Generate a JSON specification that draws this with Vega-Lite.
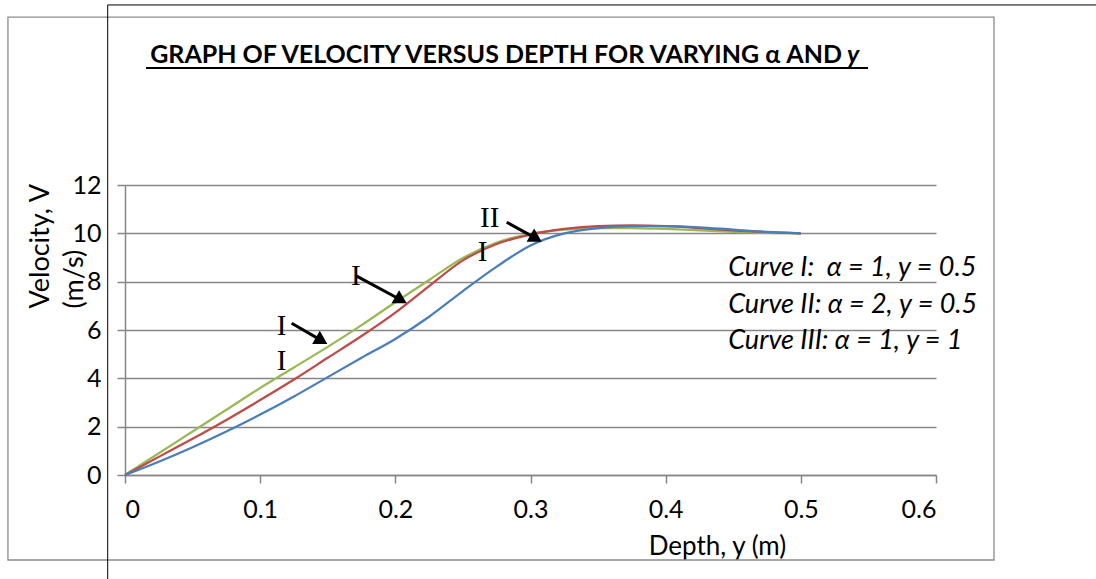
{
  "$schema": "https://vega.github.io/schema/vega-lite/v6.json",
  "width": 811,
  "height": 290,
  "autosize": "none",
  "padding": {"left": 125, "top": 185, "right": 160, "bottom": 104},
  "background": "white",
  "config": {"view": {"stroke": null}, "text": {"font": "Lato"}},
  "datasets": {
    "one": [{}],
    "curves": [
      {"depth": 0, "v": 0, "curve": "Curve II"},
      {"depth": 0.025, "v": 0.9, "curve": "Curve II"},
      {"depth": 0.05, "v": 1.8, "curve": "Curve II"},
      {"depth": 0.075, "v": 2.7, "curve": "Curve II"},
      {"depth": 0.1, "v": 3.6, "curve": "Curve II"},
      {"depth": 0.125, "v": 4.45, "curve": "Curve II"},
      {"depth": 0.15, "v": 5.3, "curve": "Curve II"},
      {"depth": 0.175, "v": 6.2, "curve": "Curve II"},
      {"depth": 0.2, "v": 7.15, "curve": "Curve II"},
      {"depth": 0.225, "v": 8.07, "curve": "Curve II"},
      {"depth": 0.25, "v": 8.98, "curve": "Curve II"},
      {"depth": 0.275, "v": 9.62, "curve": "Curve II"},
      {"depth": 0.3, "v": 9.98, "curve": "Curve II"},
      {"depth": 0.325, "v": 10.15, "curve": "Curve II"},
      {"depth": 0.35, "v": 10.22, "curve": "Curve II"},
      {"depth": 0.375, "v": 10.22, "curve": "Curve II"},
      {"depth": 0.4, "v": 10.18, "curve": "Curve II"},
      {"depth": 0.425, "v": 10.12, "curve": "Curve II"},
      {"depth": 0.45, "v": 10.06, "curve": "Curve II"},
      {"depth": 0.475, "v": 10.02, "curve": "Curve II"},
      {"depth": 0.5, "v": 10.0, "curve": "Curve II"},
      {"depth": 0, "v": 0, "curve": "Curve I"},
      {"depth": 0.025, "v": 0.75, "curve": "Curve I"},
      {"depth": 0.05, "v": 1.5, "curve": "Curve I"},
      {"depth": 0.075, "v": 2.28, "curve": "Curve I"},
      {"depth": 0.1, "v": 3.1, "curve": "Curve I"},
      {"depth": 0.125, "v": 3.95, "curve": "Curve I"},
      {"depth": 0.15, "v": 4.85, "curve": "Curve I"},
      {"depth": 0.175, "v": 5.75, "curve": "Curve I"},
      {"depth": 0.2, "v": 6.72, "curve": "Curve I"},
      {"depth": 0.225, "v": 7.82, "curve": "Curve I"},
      {"depth": 0.25, "v": 8.88, "curve": "Curve I"},
      {"depth": 0.275, "v": 9.56, "curve": "Curve I"},
      {"depth": 0.3, "v": 9.95, "curve": "Curve I"},
      {"depth": 0.325, "v": 10.18, "curve": "Curve I"},
      {"depth": 0.35, "v": 10.3, "curve": "Curve I"},
      {"depth": 0.375, "v": 10.33, "curve": "Curve I"},
      {"depth": 0.4, "v": 10.3, "curve": "Curve I"},
      {"depth": 0.425, "v": 10.22, "curve": "Curve I"},
      {"depth": 0.45, "v": 10.12, "curve": "Curve I"},
      {"depth": 0.475, "v": 10.05, "curve": "Curve I"},
      {"depth": 0.5, "v": 10.0, "curve": "Curve I"},
      {"depth": 0, "v": 0, "curve": "Curve III"},
      {"depth": 0.025, "v": 0.55, "curve": "Curve III"},
      {"depth": 0.05, "v": 1.15, "curve": "Curve III"},
      {"depth": 0.075, "v": 1.8, "curve": "Curve III"},
      {"depth": 0.1, "v": 2.5, "curve": "Curve III"},
      {"depth": 0.125, "v": 3.25, "curve": "Curve III"},
      {"depth": 0.15, "v": 4.05, "curve": "Curve III"},
      {"depth": 0.175, "v": 4.85, "curve": "Curve III"},
      {"depth": 0.2, "v": 5.63, "curve": "Curve III"},
      {"depth": 0.225, "v": 6.55, "curve": "Curve III"},
      {"depth": 0.25, "v": 7.61, "curve": "Curve III"},
      {"depth": 0.275, "v": 8.62, "curve": "Curve III"},
      {"depth": 0.3, "v": 9.5, "curve": "Curve III"},
      {"depth": 0.325, "v": 10.0, "curve": "Curve III"},
      {"depth": 0.35, "v": 10.22, "curve": "Curve III"},
      {"depth": 0.375, "v": 10.3, "curve": "Curve III"},
      {"depth": 0.4, "v": 10.3, "curve": "Curve III"},
      {"depth": 0.425, "v": 10.25, "curve": "Curve III"},
      {"depth": 0.45, "v": 10.15, "curve": "Curve III"},
      {"depth": 0.475, "v": 10.06, "curve": "Curve III"},
      {"depth": 0.5, "v": 10.0, "curve": "Curve III"}
    ],
    "arrows": [
      {"x0": 0.1233, "y0": 6.28, "hx": 0.1455, "hy": 5.56},
      {"x0": 0.1714, "y0": 8.23, "hx": 0.2042, "hy": 7.24},
      {"x0": 0.2824, "y0": 10.46, "hx": 0.3041, "hy": 9.79}
    ],
    "numerals": [
      {"x": 0.1159, "y": 5.79, "label": "I"},
      {"x": 0.1159, "y": 4.34, "label": "I"},
      {"x": 0.1707, "y": 7.86, "label": "I"},
      {"x": 0.2698, "y": 10.27, "label": "II"},
      {"x": 0.2645, "y": 8.85, "label": "I"}
    ],
    "notes": [
      {"x": 0.4463, "y": 8.23, "label": "Curve I:\u00a0 α = 1, y = 0.5"},
      {"x": 0.4463, "y": 6.70, "label": "Curve II: α = 2, y = 0.5"},
      {"x": 0.4463, "y": 5.21, "label": "Curve III: α = 1, y = 1"}
    ]
  },
  "layer": [
    {
      "data": {"name": "one"},
      "mark": {"type": "rect", "fill": null, "stroke": "#8c8c8c", "strokeWidth": 1.3},
      "encoding": {
        "x": {"datum": -0.0866, "type": "quantitative", "scale": {"domain": [0, 0.6], "nice": false, "zero": false}},
        "x2": {"datum": 0.6429},
        "y": {"datum": 18.95, "type": "quantitative", "scale": {"domain": [0, 12], "nice": false, "zero": false}},
        "y2": {"datum": -3.517}
      }
    },
    {
      "data": {"name": "one"},
      "mark": {"type": "rule", "color": "black", "strokeWidth": 1},
      "encoding": {
        "x": {"datum": -0.0128, "type": "quantitative", "scale": {"domain": [0, 0.6], "nice": false, "zero": false}},
        "y": {"datum": 19.45, "type": "quantitative", "scale": {"domain": [0, 12], "nice": false, "zero": false}},
        "y2": {"datum": -4.4}
      }
    },
    {
      "data": {"name": "one"},
      "mark": {"type": "rule", "color": "black", "strokeWidth": 1},
      "encoding": {
        "x": {"datum": -0.0128, "type": "quantitative", "scale": {"domain": [0, 0.6], "nice": false, "zero": false}},
        "x2": {"datum": 0.72},
        "y": {"datum": 19.45, "type": "quantitative", "scale": {"domain": [0, 12], "nice": false, "zero": false}}
      }
    },
    {
      "data": {"name": "curves"},
      "mark": {"type": "line", "interpolate": "monotone", "strokeWidth": 2.25},
      "encoding": {
        "x": {
          "field": "depth", "type": "quantitative",
          "scale": {"domain": [0, 0.6], "nice": false, "zero": false},
          "axis": {
            "values": [0, 0.1, 0.2, 0.3, 0.4, 0.5, 0.6],
            "format": "~g",
            "grid": false,
            "tickSize": 8, "tickColor": "#868686", "tickWidth": 1.5,
            "domainColor": "#868686", "domainWidth": 1.5,
            "labelFont": "Lato", "labelFontSize": 25, "labelColor": "black", "labelPadding": 14,
            "title": "Depth, y (m)",
            "titleFont": "Lato", "titleFontSize": 26, "titleFontWeight": "normal", "titleColor": "black",
            "titleX": 592, "titleY": 79, "titleAlign": "center", "titleBaseline": "alphabetic"
          }
        },
        "y": {
          "field": "v", "type": "quantitative",
          "scale": {"domain": [0, 12], "nice": false, "zero": false},
          "axis": {
            "values": [0, 2, 4, 6, 8, 10, 12],
            "grid": true, "gridColor": "#868686", "gridWidth": 1.5,
            "tickSize": 8, "tickColor": "#868686", "tickWidth": 1.5,
            "domainColor": "#868686", "domainWidth": 1.5,
            "labelFont": "Lato", "labelFontSize": 25, "labelColor": "black", "labelPadding": 16,
            "title": ["Velocity, V", "(m/s)"],
            "titleFont": "Lato", "titleFontSize": 27, "titleFontWeight": "normal", "titleColor": "black",
            "titleAngle": 270, "titleAlign": "left", "titleBaseline": "alphabetic",
            "titleX": -77, "titleY": 123, "titleLineHeight": 34
          }
        },
        "color": {
          "field": "curve", "type": "nominal",
          "scale": {"domain": ["Curve I", "Curve II", "Curve III"], "range": ["#BE4B48", "#98B954", "#4A7EBB"]},
          "legend": null
        }
      }
    },
    {
      "data": {"name": "arrows"},
      "mark": {"type": "rule", "color": "black", "strokeWidth": 3},
      "encoding": {
        "x": {"field": "x0", "type": "quantitative", "scale": {"domain": [0, 0.6], "nice": false, "zero": false}},
        "y": {"field": "y0", "type": "quantitative", "scale": {"domain": [0, 12], "nice": false, "zero": false}},
        "x2": {"field": "hx"},
        "y2": {"field": "hy"}
      }
    },
    {
      "data": {"name": "arrows"},
      "mark": {"type": "point", "shape": "triangle-up", "filled": true, "color": "black", "opacity": 1, "size": 230, "angle": 120},
      "encoding": {
        "x": {"field": "hx", "type": "quantitative", "scale": {"domain": [0, 0.6], "nice": false, "zero": false}},
        "y": {"field": "hy", "type": "quantitative", "scale": {"domain": [0, 12], "nice": false, "zero": false}}
      }
    },
    {
      "data": {"name": "numerals"},
      "mark": {"type": "text", "font": "Liberation Serif", "fontSize": 29, "color": "black", "align": "center", "baseline": "alphabetic"},
      "encoding": {
        "x": {"field": "x", "type": "quantitative", "scale": {"domain": [0, 0.6], "nice": false, "zero": false}},
        "y": {"field": "y", "type": "quantitative", "scale": {"domain": [0, 12], "nice": false, "zero": false}},
        "text": {"field": "label"}
      }
    },
    {
      "data": {"name": "notes"},
      "mark": {"type": "text", "font": "Lato", "fontSize": 27, "fontStyle": "italic", "color": "black", "align": "left", "baseline": "alphabetic"},
      "encoding": {
        "x": {"field": "x", "type": "quantitative", "scale": {"domain": [0, 0.6], "nice": false, "zero": false}},
        "y": {"field": "y", "type": "quantitative", "scale": {"domain": [0, 12], "nice": false, "zero": false}},
        "text": {"field": "label"}
      }
    },
    {
      "data": {"name": "one"},
      "mark": {"type": "text", "font": "Lato", "fontSize": 25, "fontWeight": "bold", "color": "black", "align": "right", "baseline": "alphabetic", "text": "GRAPH OF VELOCITY VERSUS DEPTH FOR VARYING α AND"},
      "encoding": {
        "x": {"datum": 0.5304, "type": "quantitative", "scale": {"domain": [0, 0.6], "nice": false, "zero": false}},
        "y": {"datum": 17.03, "type": "quantitative", "scale": {"domain": [0, 12], "nice": false, "zero": false}}
      }
    },
    {
      "data": {"name": "one"},
      "mark": {"type": "text", "font": "Lato", "fontSize": 25, "fontWeight": "bold", "fontStyle": "italic", "color": "black", "align": "left", "baseline": "alphabetic", "text": "y"},
      "encoding": {
        "x": {"datum": 0.5341, "type": "quantitative", "scale": {"domain": [0, 0.6], "nice": false, "zero": false}},
        "y": {"datum": 17.03, "type": "quantitative", "scale": {"domain": [0, 12], "nice": false, "zero": false}}
      }
    },
    {
      "data": {"name": "one"},
      "mark": {"type": "rule", "color": "black", "strokeWidth": 2},
      "encoding": {
        "x": {"datum": 0.0155, "type": "quantitative", "scale": {"domain": [0, 0.6], "nice": false, "zero": false}},
        "x2": {"datum": 0.5497},
        "y": {"datum": 16.84, "type": "quantitative", "scale": {"domain": [0, 12], "nice": false, "zero": false}}
      }
    }
  ]
}
